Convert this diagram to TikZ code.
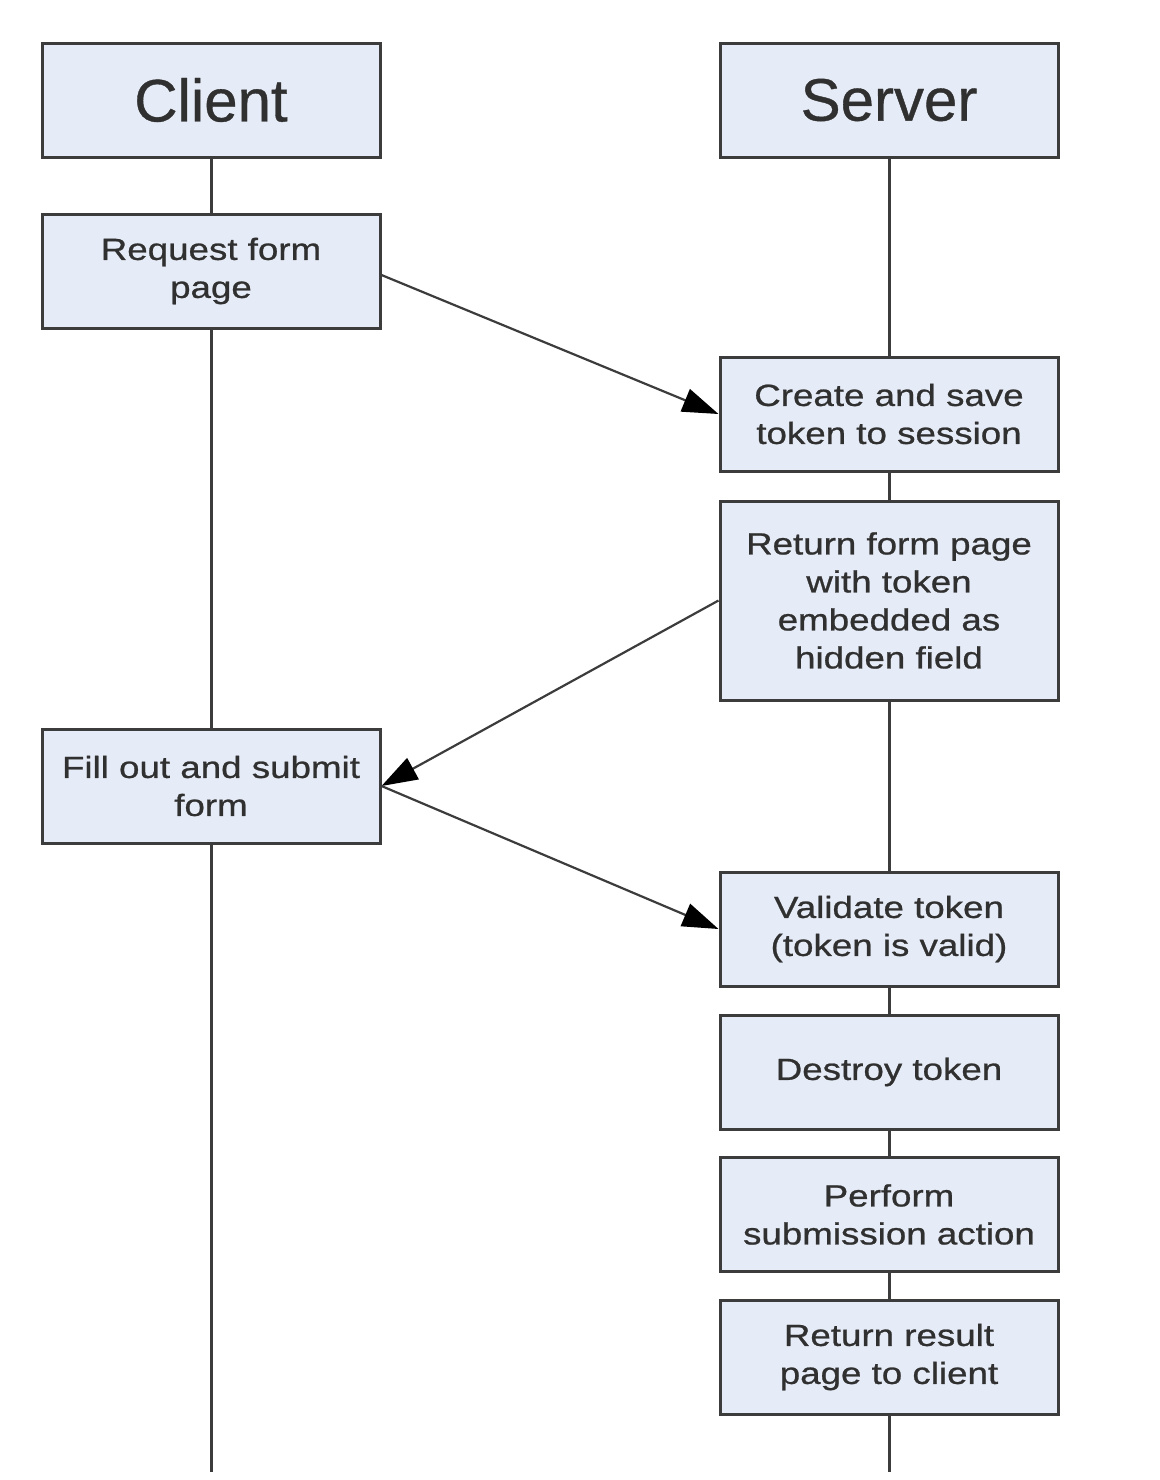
\documentclass[tikz,border=0pt]{standalone}
\usepackage{fontspec}
\setmainfont{Liberation Sans}
\newfontfamily\boxfont{Liberation Sans}[FakeStretch=1.2,FakeBold=0.8]
\newfontfamily\headfont{Liberation Sans}[FakeBold=0.6]
\usetikzlibrary{arrows.meta}
\definecolor{boxfill}{HTML}{E6ECF7}
\definecolor{boxline}{HTML}{3C3C3C}
\definecolor{txt}{HTML}{303030}
\begin{document}
\begin{tikzpicture}[x=0.5pt,y=-0.5pt,
  stepbox/.style={draw=boxline,fill=boxfill,line width=1.5pt,minimum width=169pt,minimum height=57pt,
    align=center,font=\boxfont\fontsize{15.3}{19}\selectfont,text=txt,inner sep=0pt},
  headbox/.style={stepbox,font=\headfont\fontsize{30}{36}\selectfont},
  life/.style={draw=boxline,line width=1.5pt},
  msg/.style={draw=boxline,line width=1.1pt,-{Triangle[length=18pt,width=12pt,color=black]}}]
\useasboundingbox (0,0) rectangle (1160,1480);
\node[headbox] (client) at (211,100) {Client};
\node[headbox] (server) at (889,100) {Server};
\node[stepbox] (req) at (211,271) {Request form\\page};
\node[stepbox] (create) at (889,414) {Create and save\\token to session};
\node[stepbox,minimum height=99.5pt] (ret) at (889,600.5) {Return form page\\with token\\embedded as\\hidden field};
\node[stepbox] (fill) at (211,786) {Fill out and submit\\form};
\node[stepbox] (valid) at (889,929) {Validate token\\(token is valid)};
\node[stepbox] (destroy) at (889,1072) {Destroy token};
\node[stepbox] (perform) at (889,1214.5) {Perform\\submission action};
\node[stepbox] (result) at (889,1357) {Return result\\page to client};
\coordinate (cend) at (211,1472);
\coordinate (send) at (889,1472);
% lifelines
\draw[life] (client) -- (req);
\draw[life] (req) -- (fill);
\draw[life] (fill) -- (cend);
\draw[life] (server) -- (create);
\draw[life] (create) -- (ret);
\draw[life] (ret) -- (valid);
\draw[life] (valid) -- (destroy);
\draw[life] (destroy) -- (perform);
\draw[life] (perform) -- (result);
\draw[life] (result) -- (send);
% messages
\draw[msg] ([yshift=-2pt]req.east) -- (create.west);
\draw[msg] (ret.west) -- (fill.east);
\draw[msg] (fill.east) -- (valid.west);
\end{tikzpicture}
\end{document}
